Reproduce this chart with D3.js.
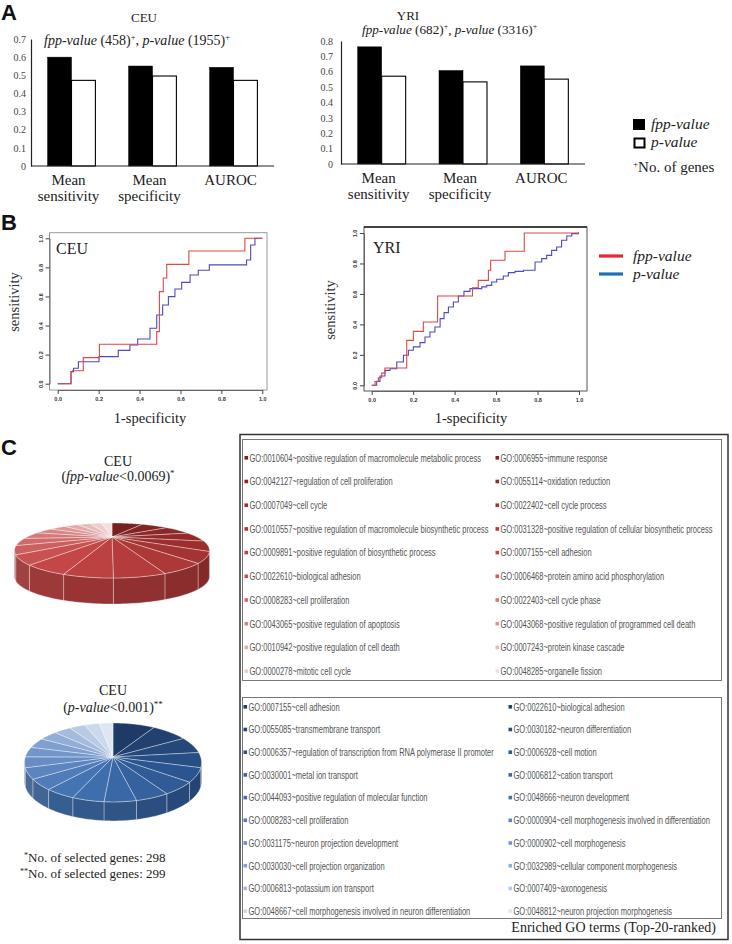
<!DOCTYPE html>
<html><head><meta charset="utf-8">
<script src="https://cdn.jsdelivr.net/npm/d3@7"></script>
<style>body{margin:0;background:#fff}</style>
</head><body>
<svg id="c" width="732" height="944" xmlns="http://www.w3.org/2000/svg"></svg>
<script>
// ---------------- DATA ----------------
const barCategories = [["Mean","sensitivity"],["Mean","specificity"],["AUROC"]];
const barSeries = ["fpp-value","p-value"];
const ceuFpp = [0.600, 0.551, 0.544];
const ceuP   = [0.472, 0.496, 0.472];
const yriFpp = [0.762, 0.608, 0.638];
const yriP   = [0.571, 0.534, 0.552];
const ceuBarTicks = [0,0.1,0.2,0.3,0.4,0.5,0.6,0.7];
const yriBarTicks = [0,0.1,0.2,0.3,0.4,0.5,0.6,0.7,0.8];

const rocTicks = [0,0.2,0.4,0.6,0.8,1.0];
// [1-specificity, sensitivity] step points
const ceuRocFpp = [[0,0],[0.065,0.083],[0.072,0.089],[0.125,0.179],[0.204,0.271],[0.484,0.358],[0.497,0.633],[0.516,0.727],[0.533,0.821],[0.641,0.913],[0.915,1.0],[1.0,1.0]];
const ceuRocP = [[0,0],[0.065,0.083],[0.077,0.106],[0.101,0.151],[0.202,0.186],[0.296,0.229],[0.353,0.266],[0.391,0.307],[0.451,0.381],[0.484,0.472],[0.513,0.541],[0.541,0.599],[0.573,0.651],[0.606,0.697],[0.647,0.748],[0.687,0.780],[0.741,0.817],[0.923,0.851],[0.943,0.954],[0.964,1.0],[1.0,1.0]];
const yriRocFpp = [[0,0],[0.016,0.025],[0.032,0.05],[0.048,0.08],[0.064,0.114],[0.169,0.295],[0.201,0.354],[0.249,0.416],[0.318,0.586],[0.486,0.641],[0.514,0.689],[0.563,0.755],[0.574,0.821],[0.643,0.880],[0.736,1.0],[1.0,1.0]];
const yriRocP = [[0,0],[0.024,0.026],[0.040,0.061],[0.064,0.098],[0.088,0.109],[0.121,0.153],[0.153,0.197],[0.177,0.230],[0.201,0.252],[0.233,0.280],[0.257,0.317],[0.281,0.350],[0.305,0.383],[0.330,0.438],[0.349,0.477],[0.370,0.514],[0.394,0.547],[0.418,0.586],[0.445,0.617],[0.474,0.635],[0.531,0.646],[0.555,0.656],[0.579,0.678],[0.603,0.696],[0.635,0.718],[0.659,0.740],[0.691,0.748],[0.732,0.755],[0.788,0.810],[0.820,0.832],[0.844,0.853],[0.868,0.886],[0.892,0.908],[0.916,0.952],[0.941,0.980],[0.965,0.996],[0.997,1.0],[1.0,1.0]];

const goFpp = [
"GO:0010604~positive regulation of macromolecule metabolic process","GO:0006955~immune response",
"GO:0042127~regulation of cell proliferation","GO:0055114~oxidation reduction",
"GO:0007049~cell cycle","GO:0022402~cell cycle process",
"GO:0010557~positive regulation of macromolecule biosynthetic process","GO:0031328~positive regulation of cellular biosynthetic process",
"GO:0009891~positive regulation of biosynthetic process","GO:0007155~cell adhesion",
"GO:0022610~biological adhesion","GO:0006468~protein amino acid phosphorylation",
"GO:0008283~cell proliferation","GO:0022403~cell cycle phase",
"GO:0043065~positive regulation of apoptosis","GO:0043068~positive regulation of programmed cell death",
"GO:0010942~positive regulation of cell death","GO:0007243~protein kinase cascade",
"GO:0000278~mitotic cell cycle","GO:0048285~organelle fission"];
const goP = [
"GO:0007155~cell adhesion","GO:0022610~biological adhesion",
"GO:0055085~transmembrane transport","GO:0030182~neuron differentiation",
"GO:0006357~regulation of transcription from RNA polymerase II promoter","GO:0006928~cell motion",
"GO:0030001~metal ion transport","GO:0006812~cation transport",
"GO:0044093~positive regulation of molecular function","GO:0048666~neuron development",
"GO:0008283~cell proliferation","GO:0000904~cell morphogenesis involved in differentiation",
"GO:0031175~neuron projection development","GO:0000902~cell morphogenesis",
"GO:0030030~cell projection organization","GO:0032989~cellular component morphogenesis",
"GO:0006813~potassium ion transport","GO:0007409~axonogenesis",
"GO:0048667~cell morphogenesis involved in neuron differentiation","GO:0048812~neuron projection morphogenesis"];
const pieFppValues = [32,26,24,23,22,21,20,20,19,19,18,18,17,17,16,15,14,13,12,11];
const piePValues   = [34,30,26,24,23,22,21,20,20,19,18,18,17,16,16,15,14,13,12,11];

// ---------------- DRAW ----------------
const svg = d3.select("#c");
const serif = "'Liberation Serif','Times New Roman',serif";
const sans = "'Liberation Sans',Arial,sans-serif";
const narrow = "'Liberation Sans Narrow','Liberation Sans',Arial,sans-serif";

// panel letters
[["A",1,20],["B",1,230],["C",1,455]].forEach(([t,x,y])=>{
  svg.append("text").attr("x",x).attr("y",y).text(t)
    .attr("font-family",sans).attr("font-weight","bold").attr("font-size",22).attr("fill","#111");
});

function drawBars(o){
  const g = svg.append("g");
  const x = d3.scaleBand().domain(d3.range(barCategories.length)).range([o.left,o.right]).paddingInner(0.41).paddingOuter(0.205);
  const xs = d3.scaleBand().domain(barSeries).range([0,x.bandwidth()]);
  const y = d3.scaleLinear().domain([0,o.max]).range([o.base,o.top]);
  const ax = g.append("g").attr("transform",`translate(${o.left},0)`)
    .call(d3.axisLeft(y).tickValues(o.ticks).tickSize(0).tickPadding(o.pad).tickFormat(d=>d===0?"0":d3.format(".1f")(d)));
  ax.select(".domain").attr("stroke","#222").attr("stroke-width",1.2);
  ax.selectAll("text").attr("font-family",serif).attr("font-size",10).attr("fill","#444");
  const series = [o.fpp,o.p];
  barCategories.forEach((c,i)=>{
    barSeries.forEach((s,j)=>{
      const v = series[j][i];
      g.append("rect").attr("x",x(i)+xs(s)).attr("y",y(v)).attr("width",xs.bandwidth()).attr("height",y(0)-y(v))
        .attr("fill",j?"#fff":"#000").attr("stroke","#000").attr("stroke-width",j?1.1:0.5);
    });
    const t = g.append("text").attr("text-anchor","middle").attr("font-family",serif).attr("font-size",15).attr("fill","#222");
    c.forEach((line,k)=>t.append("tspan").attr("x",x(i)+x.bandwidth()/2-3).attr("y",o.base+19+k*16).text(line));
  });
  g.append("line").attr("x1",o.left).attr("x2",o.right).attr("y1",y(0)).attr("y2",y(0)).attr("stroke","#222").attr("stroke-width",1.2);
  g.append("text").attr("x",o.titleX).attr("y",o.titleY).attr("text-anchor","middle").attr("font-family",serif).attr("font-size",13).attr("fill","#222").text(o.title);
  const st = g.append("text").attr("x",o.subX).attr("y",o.subY).attr("font-family",serif).attr("font-size",o.subSize).attr("fill","#222");
  st.append("tspan").attr("font-style","italic").text("fpp-value");
  st.append("tspan").text(" ("+o.n1+")");
  st.append("tspan").attr("dy",-5).attr("font-size",o.subSize*0.6).text("+");
  st.append("tspan").attr("dy",5).text(", ");
  st.append("tspan").attr("font-style","italic").text("p-value");
  st.append("tspan").text(" ("+o.n2+")");
  st.append("tspan").attr("dy",-5).attr("font-size",o.subSize*0.6).text("+");
}
drawBars({left:31,right:274,base:166,top:39,max:0.7,ticks:ceuBarTicks,pad:5,fpp:ceuFpp,p:ceuP,
  title:"CEU",titleX:144,titleY:22,subX:44,subY:45,subSize:14,n1:458,n2:1955});
drawBars({left:341,right:585,base:164,top:41,max:0.8,ticks:yriBarTicks,pad:8,fpp:yriFpp,p:yriP,
  title:"YRI",titleX:408,titleY:20,subX:362,subY:34,subSize:13.2,n1:682,n2:3316});

// legend A
svg.append("rect").attr("x",633).attr("y",119).attr("width",12).attr("height",11).attr("fill","#000");
svg.append("rect").attr("x",634.5).attr("y",138.5).attr("width",10).attr("height",9).attr("fill","#fff").attr("stroke","#000").attr("stroke-width",2);
svg.append("text").attr("x",651).attr("y",129).attr("font-family",serif).attr("font-style","italic").attr("font-size",15.5).attr("fill","#222").text(barSeries[0]);
svg.append("text").attr("x",651).attr("y",147).attr("font-family",serif).attr("font-style","italic").attr("font-size",15.5).attr("fill","#222").text(barSeries[1]);
{
  const t = svg.append("text").attr("x",633).attr("y",172).attr("font-family",serif).attr("font-size",15).attr("fill","#222");
  t.append("tspan").attr("dy",-5).attr("font-size",9).text("+");
  t.append("tspan").attr("dy",5).text("No. of genes");
}

// ---------------- ROC ----------------
function drawRoc(o){
  const g = svg.append("g");
  const x = d3.scaleLinear().domain([0,1]).range([o.x0,o.x1]);
  const y = d3.scaleLinear().domain([0,1]).range([o.y0,o.y1]);
  g.append("rect").attr("x",o.bx0).attr("y",o.by0).attr("width",o.bx1-o.bx0).attr("height",o.by1-o.by0)
    .attr("fill","none").attr("stroke",o.boxColor).attr("stroke-width",1);
  if(o.topDark) g.append("line").attr("x1",o.bx0).attr("x2",o.bx1).attr("y1",o.by0).attr("y2",o.by0).attr("stroke","#222").attr("stroke-width",1.6);
  const xa = g.append("g").attr("transform",`translate(0,${o.by1})`)
    .call(d3.axisBottom(x).tickValues(rocTicks).tickSize(4).tickSizeOuter(0).tickPadding(3).tickFormat(d3.format(".1f")));
  xa.select(".domain").attr("stroke","#666");
  xa.selectAll("line").attr("stroke","#444");
  xa.selectAll("text").attr("font-family",sans).attr("font-weight","bold").attr("font-size",5.5).attr("fill","#333");
  const ya = g.append("g").attr("transform",`translate(${o.bx0},0)`)
    .call(d3.axisLeft(y).tickValues(rocTicks).tickSize(4).tickSizeOuter(0).tickFormat(d3.format(".1f")));
  ya.select(".domain").attr("stroke","#666");
  ya.selectAll("line").attr("stroke","#444");
  ya.selectAll("text").attr("x",0).attr("y",-7).attr("dy",0).attr("text-anchor","middle").attr("transform","rotate(-90)")
    .attr("font-family",sans).attr("font-weight","bold").attr("font-size",5.5).attr("fill","#333");
  const line = d3.line().x(d=>x(d[0])).y(d=>y(d[1])).curve(d3.curveStepAfter);
  g.append("path").attr("d",line(o.p)).attr("fill","none").attr("stroke","#4b4bc4").attr("stroke-width",1.1);
  g.append("path").attr("d",line(o.fpp)).attr("fill","none").attr("stroke","#e0473f").attr("stroke-width",1.1);
  g.append("text").attr("x",o.lx).attr("y",o.ly).attr("font-family",serif).attr("font-size",16).attr("fill","#222").text(o.label);
  g.append("text").attr("transform",`translate(${o.sx},${o.sy}) rotate(-90)`).attr("text-anchor","middle")
    .attr("font-family",serif).attr("font-size",14.5).attr("fill","#333").text("sensitivity");
  g.append("text").attr("x",o.fx).attr("y",423).attr("text-anchor","middle")
    .attr("font-family",serif).attr("font-size",14.5).attr("fill","#222").text("1-specificity");
}
drawRoc({x0:57.7,x1:262.3,y0:383.7,y1:238.3,bx0:49.5,bx1:267,by0:232.7,by1:390,boxColor:"#9a9a9a",topDark:false,
  fpp:ceuRocFpp,p:ceuRocP,label:"CEU",lx:56,ly:254,sx:19,sy:302,fx:150});
drawRoc({x0:371.7,x1:579,y0:385.3,y1:233,bx0:364,bx1:587,by0:227,by1:391,boxColor:"#555",topDark:true,
  fpp:yriRocFpp,p:yriRocP,label:"YRI",lx:373,ly:253,sx:335,sy:310,fx:471});

// legend B
svg.append("line").attr("x1",599).attr("x2",623).attr("y1",256).attr("y2",256).attr("stroke","#e8262b").attr("stroke-width",3.2);
svg.append("line").attr("x1",599).attr("x2",623).attr("y1",274).attr("y2",274).attr("stroke","#1f6fb5").attr("stroke-width",3.2);
svg.append("text").attr("x",633).attr("y",261).attr("font-family",serif).attr("font-style","italic").attr("font-size",15.5).attr("fill","#222").text(barSeries[0]);
svg.append("text").attr("x",633).attr("y",279).attr("font-family",serif).attr("font-style","italic").attr("font-size",15.5).attr("fill","#222").text(barSeries[1]);

// ---------------- PIES ----------------
const redColor = d3.scaleLinear().domain([0,4,9,14,19]).range(["#7a2020","#9c2e2e","#c44646","#d98484","#f2e0e0"]);
const blueColor = d3.scaleLinear().domain([0,4,9,14,19]).range(["#1e3a66","#2b5590","#4474b4","#7f9fcf","#dfe6f2"]);

function drawPie(values,color,P){
  const g = svg.append("g");
  const arcs = d3.pie().sort(null).value(d=>d)(values);
  const proj = (t,dy)=>{const u=Math.sin(t),v=-Math.cos(t),s=P.D/(P.D-v);return [P.cx+P.R*u*s,P.cy+P.Rk*v*s+(dy||0)];};
  let tR=0,mx=-1e9;
  for(let t=0;t<=Math.PI;t+=0.002){const p=proj(t);if(p[0]>mx){mx=p[0];tR=t;}}
  const tL = 2*Math.PI-tR;
  const pts = (a0,a1,dy)=>{const n=Math.max(2,Math.ceil((a1-a0)/0.02));return d3.range(n+1).map(k=>proj(a0+(a1-a0)*k/n,dy));};
  arcs.forEach((a,i)=>{
    const s0=Math.max(a.startAngle,tR), s1=Math.min(a.endAngle,tL);
    if(s1<=s0) return;
    const top=pts(s0,s1,0), bot=pts(s0,s1,P.depth).reverse();
    g.append("path").attr("d","M"+top.concat(bot).map(p=>p.join(",")).join("L")+"Z")
      .attr("fill",d3.color(color(i)).darker(0.6)).attr("stroke","#f4e8e8").attr("stroke-width",0.5).attr("stroke-opacity",0.7);
  });
  arcs.forEach((a,i)=>{
    const rim=pts(a.startAngle,a.endAngle,0);
    g.append("path").attr("d","M"+[P.cx,P.cy].join(",")+"L"+rim.map(p=>p.join(",")).join("L")+"Z")
      .attr("fill",color(i)).attr("stroke","#fff").attr("stroke-width",0.6).attr("stroke-opacity",0.6);
  });
}
drawPie(pieFppValues,redColor,{cx:112,cy:537,R:85,Rk:20.9,D:2.04,depth:26});
drawPie(piePValues,blueColor,{cx:113,cy:757,R:87.7,Rk:38.7,D:7.25,depth:19});

function pieTitle(cx,y1,y2,italicPart,rest,sup){
  svg.append("text").attr("x",cx).attr("y",y1).attr("text-anchor","middle").attr("font-family",serif).attr("font-size",14).attr("fill","#222").text("CEU");
  const t=svg.append("text").attr("x",cx).attr("y",y2).attr("text-anchor","middle").attr("font-family",serif).attr("font-size",14).attr("fill","#222");
  t.append("tspan").text("(");
  t.append("tspan").attr("font-style","italic").text(italicPart);
  t.append("tspan").text(rest);
  t.append("tspan").attr("dy",-5).attr("font-size",9).text(sup);
}
pieTitle(118,466,481,"fpp-value","<0.0069)","*");
pieTitle(113,695,712,"p-value","<0.001)","**");
{
  const t1=svg.append("text").attr("x",24).attr("y",862).attr("font-family",serif).attr("font-size",13).attr("fill","#222");
  t1.append("tspan").attr("dy",-4).attr("font-size",8).text("*");
  t1.append("tspan").attr("dy",4).text("No. of selected genes:  298");
  const t2=svg.append("text").attr("x",20).attr("y",878).attr("font-family",serif).attr("font-size",13).attr("fill","#222");
  t2.append("tspan").attr("dy",-4).attr("font-size",8).text("**");
  t2.append("tspan").attr("dy",4).text("No. of selected genes:  299");
}

// ---------------- GO legend ----------------
svg.append("rect").attr("x",240).attr("y",434.5).attr("width",488).attr("height",505).attr("fill","none").attr("stroke","#333").attr("stroke-width",1.5);
svg.append("rect").attr("x",242.5).attr("y",439.5).attr("width",479).attr("height",241).attr("fill","none").attr("stroke","#777").attr("stroke-width",1);
svg.append("rect").attr("x",242.5).attr("y",697.5).attr("width",479).attr("height",221).attr("fill","none").attr("stroke","#777").attr("stroke-width",1);

// horizontal compression factor so the first term spans ~232px (condensed face in reference)
const probe = svg.append("text").attr("font-family",narrow).attr("font-size",10.5).text(goFpp[0]);
const goK = 232/probe.node().getComputedTextLength();
probe.remove();

function goList(terms,color,y0,dy,colX){
  terms.forEach((t,i)=>{
    const r=Math.floor(i/2), c=i%2, yy=y0+r*dy;
    svg.append("rect").attr("x",colX[c]).attr("y",yy-2).attr("width",3.6).attr("height",3.6).attr("fill",color(i));
    svg.append("text").attr("transform",`translate(${colX[c]+5},${yy+3.6}) scale(${goK},1)`)
      .attr("font-family",narrow).attr("font-size",10.5).attr("fill","#555").text(t);
  });
}
goList(goFpp,redColor,458,23.7,[244.5,495.5]);
goList(goP,blueColor,707,22.7,[243.5,508.5]);
svg.append("text").attr("x",716).attr("y",932).attr("text-anchor","end").attr("font-family",serif).attr("font-size",14).attr("fill","#222").text("Enriched GO terms (Top-20-ranked)");
</script>
</body></html>
